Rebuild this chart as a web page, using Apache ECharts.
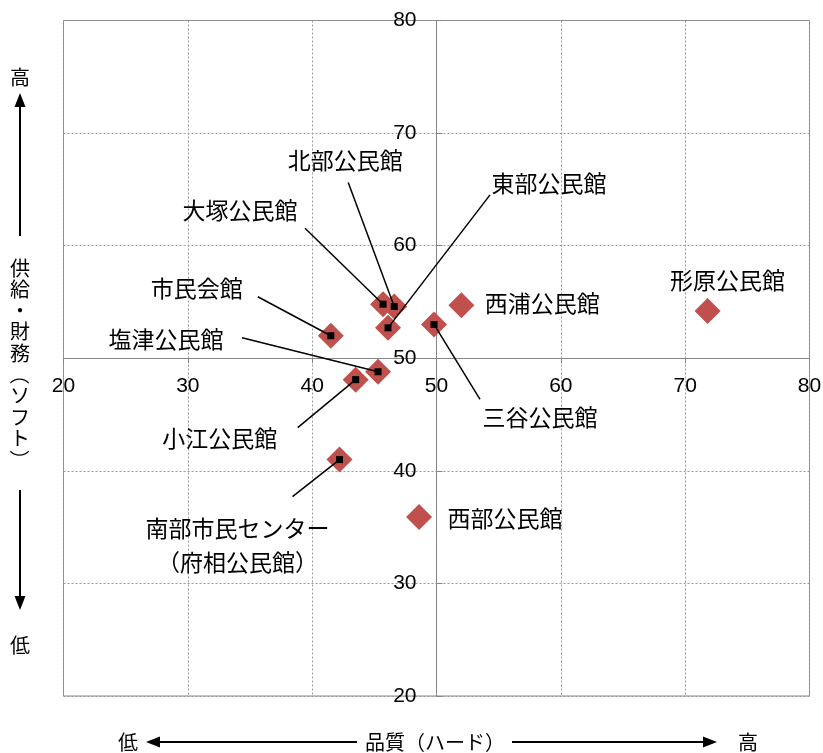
<!DOCTYPE html>
<html>
<head>
<meta charset="utf-8">
<script src="https://cdn.jsdelivr.net/npm/echarts@6/dist/echarts.min.js"></script>
<style>
  html, body { margin: 0; padding: 0; background: #ffffff; }
  #main { width: 823px; height: 753px; }
</style>
</head>
<body>
<div id="main"></div>
<script>
// ---- data ----
const names = ['大塚公民館', '北部公民館', '東部公民館', '西浦公民館', '形原公民館', '三谷公民館',
               '市民会館', '塩津公民館', '小江公民館', '南部市民センター\n（府相公民館）', '西部公民館'];
const quality = [45.7, 46.6, 46.1, 52.0, 71.8, 49.8, 41.5, 45.3, 43.5, 42.2, 48.6];   // 品質（ハード）
const software = [54.8, 54.6, 52.7, 54.7, 54.2, 53.0, 52.0, 48.8, 48.1, 41.0, 35.9]; // 供給・財務（ソフト）
const axisTicks = [20, 30, 40, 50, 60, 70, 80];

// ---- label layout (pixel offsets from the point; leader start offsets) ----
const labelOffset = [[-143, -94], [-49, -146], [161, -145], [81, -2], [20, -31], [106, 93],
                     [-134, -47], [-212, -32], [-136, 59], [-102, 86], [86, 1]];
const leaderOffset = [[-78, -76], [-46, -124], [102, -133], null, null, [46, 75],
                      [-73, -39], [-136, -34], [-58, 48], [-47, 37], null];

const points = quality.map((q, i) => [q, software[i], i]);

const chart = echarts.init(document.getElementById('main'), null, { renderer: 'canvas' });

const numFont = 'Liberation Sans, Arial, sans-serif';
const jpFont = 'Noto Sans CJK JP, sans-serif';

const graphics = [];
function txt(x, y, s, rot) {
  graphics.push({ type: 'text', x: x, y: y, rotation: rot || 0,
    style: { text: s, fontSize: 20, fontFamily: jpFont, fill: '#000', align: 'center', verticalAlign: 'middle' } });
}
function ln(x1, y1, x2, y2) {
  graphics.push({ type: 'line', shape: { x1, y1, x2, y2 }, style: { stroke: '#000', lineWidth: 2 } });
}
function tri(pts) {
  graphics.push({ type: 'polygon', shape: { points: pts }, style: { fill: '#000' } });
}
// left vertical title
txt(20, 77, '高');
ln(20, 236, 20, 104); tri([[20, 93], [14.5, 107], [25.5, 107]]);
const vt = '供給・財務（ソフト）'.split('');
vt.forEach((c, k) => {
  const rot = (c === '（' || c === '）') ? -Math.PI / 2 : 0;
  txt(20, 268 + k * 21.3, c, rot);
});
ln(20, 490, 20, 598); tri([[20, 610], [14.5, 596], [25.5, 596]]);
txt(20, 645, '低');
// bottom title
txt(128, 742, '低');
tri([[146, 742], [160, 736.5], [160, 747.5]]); ln(158, 742, 357, 742);
txt(435, 742, '品質（ハード）');
ln(512, 742, 705, 742); tri([[717, 742], [703, 736.5], [703, 747.5]]);
txt(748, 742, '高');

const option = {
  animation: false,
  backgroundColor: '#ffffff',
  grid: { left: 63.5, right: 13.5, top: 20.5, bottom: 57, show: true, borderColor: '#868686', borderWidth: 1,
          containLabel: false, outerBoundsMode: 'none' },
  xAxis: {
    type: 'value', min: axisTicks[0], max: axisTicks[axisTicks.length - 1], interval: 10,
    position: 'bottom', offset: 0,
    axisLine: { show: true, onZero: false, lineStyle: { color: '#868686', width: 1 } },
    axisTick: { show: true, inside: false, length: 5, lineStyle: { color: '#868686' } },
    axisLabel: { fontSize: 21, fontFamily: numFont, color: '#000', margin: 17, showMinLabel: true, showMaxLabel: true },
    splitLine: { show: true, lineStyle: { color: '#9a9a9a', type: [2, 2], width: 1 } }
  },
  yAxis: {
    type: 'value', min: axisTicks[0], max: axisTicks[axisTicks.length - 1], interval: 10,
    position: 'left', offset: 0,
    axisLine: { show: true, onZero: false, lineStyle: { color: '#868686', width: 1 } },
    axisTick: { show: true, inside: true, length: 6, lineStyle: { color: '#868686' } },
    axisLabel: { fontSize: 21, fontFamily: numFont, color: '#000', margin: 20, showMinLabel: true, showMaxLabel: true },
    splitLine: { show: true, lineStyle: { color: '#9a9a9a', type: [2, 2], width: 1 } }
  },
  graphic: graphics,
  series: [
    {
      type: 'scatter', name: 'points', data: points, symbol: 'diamond', symbolSize: 26,
      itemStyle: { color: '#C0504D', opacity: 1 }, z: 2
    },
    {
      type: 'custom', name: 'labels', data: points, z: 3, clip: false,
      renderItem: function (params, api) {
        const i = api.value(2);
        const p = api.coord([api.value(0), api.value(1)]);
        const children = [];
        const lo = leaderOffset[i];
        if (lo) {
          children.push({ type: 'line', shape: { x1: p[0] + lo[0], y1: p[1] + lo[1], x2: p[0], y2: p[1] },
            style: { stroke: '#000', lineWidth: 1.5 } });
          children.push({ type: 'rect', shape: { x: p[0] - 3.5, y: p[1] - 3.5, width: 7, height: 7 },
            style: { fill: '#000' } });
        }
        const off = labelOffset[i];
        children.push({ type: 'text', x: p[0] + off[0], y: p[1] + off[1],
          style: { text: names[i], fontSize: 23, fontFamily: jpFont, fill: '#000',
                   align: 'center', verticalAlign: 'middle', lineHeight: 34 } });
        return { type: 'group', children: children };
      }
    }
  ]
};

chart.setOption(option);
// move the axes so they cross at (50, 50) using the chart's own scales
const y20 = chart.convertToPixel({ yAxisIndex: 0 }, axisTicks[0]);
const y50 = chart.convertToPixel({ yAxisIndex: 0 }, 50);
const x20 = chart.convertToPixel({ xAxisIndex: 0 }, axisTicks[0]);
const x50 = chart.convertToPixel({ xAxisIndex: 0 }, 50);
chart.setOption({ xAxis: { offset: y50 - y20 }, yAxis: { offset: x20 - x50 } });
</script>
</body>
</html>
